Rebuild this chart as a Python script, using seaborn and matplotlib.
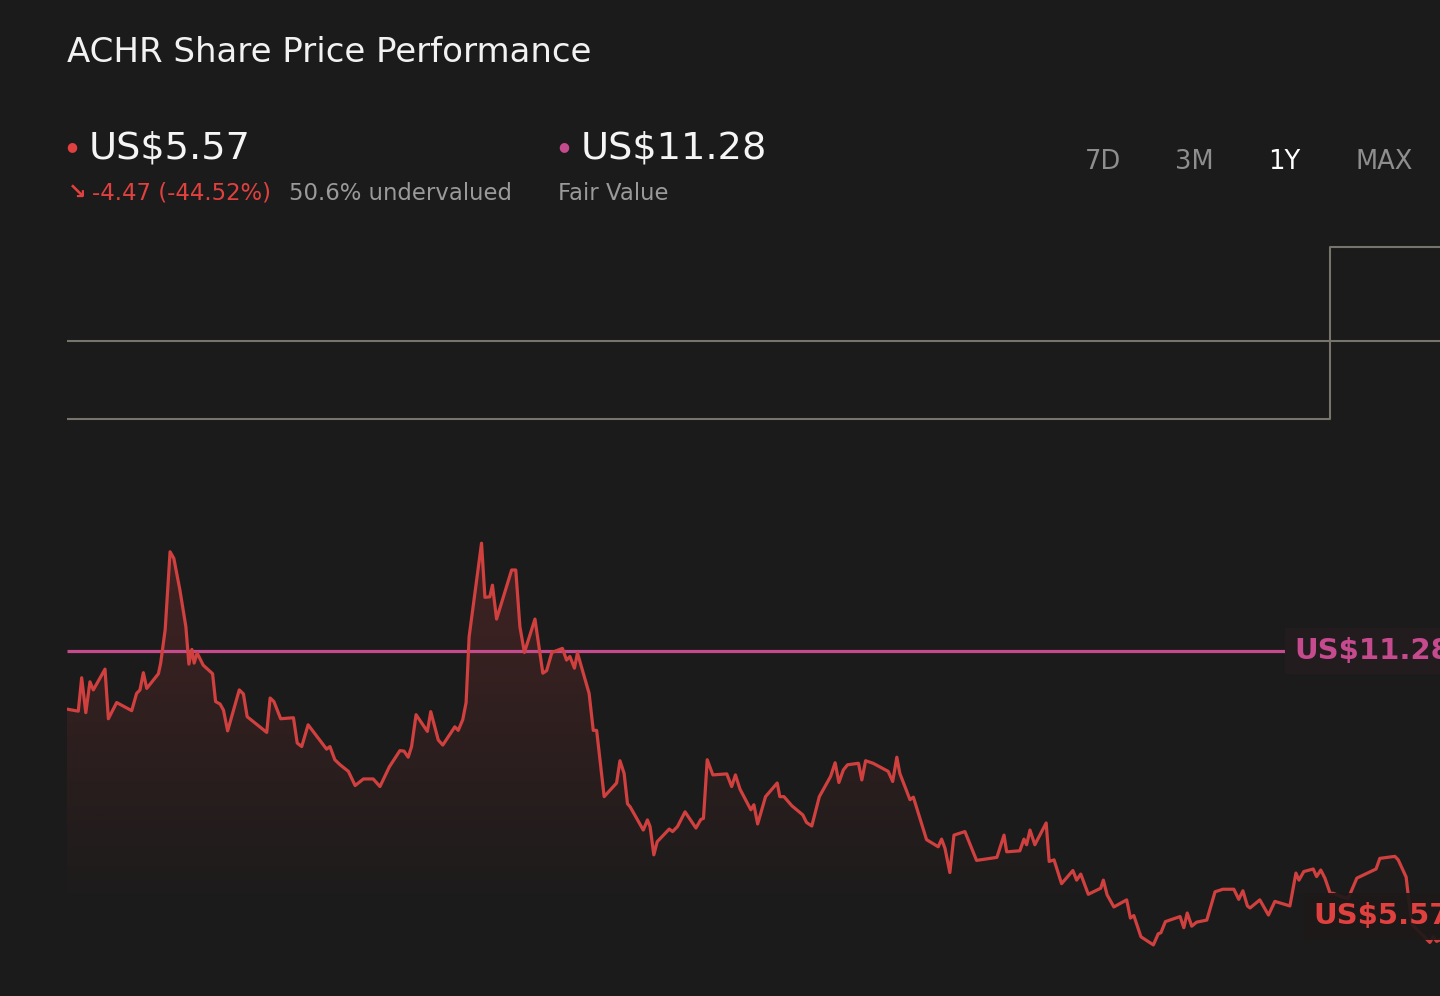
import numpy as np
import matplotlib
matplotlib.use("Agg")
import matplotlib.pyplot as plt
from matplotlib.path import Path
from matplotlib.colors import to_rgb
import seaborn as sns

# header numbers
ticker = "ACHR"
last_price = 5.57
fair_value = 11.28
price_change = -4.47
pct_change = -44.52
undervalued = 50.6
periods = ["7D", "3M", "1Y", "MAX"]
active_period = "1Y"

# 1Y price history (calendar day offset, US$)
day = [0.0, 3.0, 3.9, 5.0, 6.1, 7.0, 10.1, 11.0, 13.2, 17.2, 18.5, 19.4, 20.3, 21.2,
       24.3, 24.9, 26.1, 27.4, 28.4, 30.0, 31.6, 32.4, 33.2, 33.8, 34.6, 36.2, 38.7,
       39.5, 40.7, 41.6, 42.7, 45.8, 46.9, 47.9, 53.1, 54.0, 55.0, 56.8, 60.2, 61.2,
       62.4, 64.1, 69.0, 69.9, 71.2, 72.6, 74.8, 76.6, 78.8, 81.4, 83.2, 85.7, 88.5,
       89.6, 90.7, 91.6, 92.8, 95.8, 96.7, 98.7, 99.9, 103.1, 104.0, 105.2, 106.1,
       106.9, 108.9, 110.2, 111.1, 112.4, 113.1, 114.2, 118.2, 119.3, 120.4, 121.6,
       124.4, 126.5, 127.5, 128.9, 131.7, 132.8, 133.7, 134.9, 135.7, 138.8, 139.9,
       140.8, 142.8, 146.1, 147.0, 148.1, 149.0, 149.7, 153.2, 154.3, 155.0, 156.0,
       156.9, 160.1, 161.0, 162.3, 164.3, 167.2, 168.5, 169.2, 170.2, 171.7, 175.4,
       176.7, 177.7, 178.9, 181.8, 182.6, 183.6, 185.7, 188.8, 189.5, 190.6, 192.7,
       195.6, 196.6, 198.0, 200.0, 203.0, 204.2, 205.2, 206.4, 207.5, 210.4, 211.3,
       212.3, 214.3, 218.3, 219.5, 220.6, 221.4, 224.1, 225.0, 228.5, 231.6, 232.5,
       233.4, 234.7, 235.8, 238.7, 241.8, 247.2, 249.1, 249.8, 253.3, 254.4, 255.1,
       256.0, 257.3, 260.3, 261.1, 262.4, 264.4, 267.4, 268.4, 269.5, 271.5, 274.8,
       275.5, 276.5, 278.3, 281.7, 282.7, 283.6, 285.5, 288.8, 290.1, 290.8, 292.0,
       295.9, 296.9, 297.8, 299.0, 300.3, 303.0, 305.2, 307.3, 310.2, 311.5, 312.6,
       313.8, 314.5, 317.1, 319.4, 321.1, 325.1, 326.7, 327.5, 328.8, 331.3, 332.2,
       333.3, 334.4, 335.8, 336.6, 338.9, 340.6, 342.9, 348.0, 349.0, 353.0, 353.9,
       356.0, 356.6, 357.6, 362.3, 363.2, 364.1, 365.0]
price = [10.13, 10.09, 10.75, 10.06, 10.67, 10.51, 10.92, 9.94, 10.26, 10.10, 10.44,
         10.51, 10.85, 10.54, 10.83, 11.04, 11.70, 13.24, 13.11, 12.49, 11.76, 11.02,
         11.31, 11.04, 11.24, 11.00, 10.83, 10.28, 10.23, 10.11, 9.70, 10.51, 10.43,
         9.98, 9.67, 10.35, 10.28, 9.94, 9.96, 9.46, 9.39, 9.82, 9.34, 9.39, 9.13,
         9.03, 8.90, 8.62, 8.75, 8.75, 8.60, 8.99, 9.31, 9.30, 9.18, 9.39, 10.02,
         9.69, 10.08, 9.52, 9.42, 9.78, 9.71, 9.92, 10.26, 11.56, 12.68, 13.41, 12.34,
         12.35, 12.58, 11.91, 12.88, 12.88, 11.76, 11.25, 11.91, 10.84, 10.89, 11.25,
         11.33, 11.10, 11.17, 10.94, 11.24, 10.44, 9.71, 9.71, 8.40, 8.67, 9.11, 8.86,
         8.26, 8.20, 7.74, 7.94, 7.81, 7.25, 7.51, 7.76, 7.71, 7.81, 8.10, 7.78, 7.95,
         7.97, 9.13, 8.83, 8.85, 8.60, 8.83, 8.55, 8.14, 8.24, 7.86, 8.40, 8.67, 8.40,
         8.40, 8.22, 8.04, 7.89, 7.82, 8.40, 8.80, 9.07, 8.68, 8.93, 9.03, 9.06, 8.73,
         9.11, 9.06, 8.90, 8.70, 9.18, 8.86, 8.34, 8.39, 7.55, 7.41, 7.56, 7.38, 6.90,
         7.64, 7.71, 7.14, 7.20, 7.64, 7.31, 7.33, 7.56, 7.45, 7.74, 7.45, 7.88, 7.12,
         7.15, 6.68, 6.94, 6.75, 6.87, 6.47, 6.59, 6.75, 6.46, 6.22, 6.36, 6.00, 6.05,
         5.63, 5.47, 5.69, 5.71, 5.93, 6.03, 5.81, 6.10, 5.84, 5.92, 5.96, 6.52, 6.57,
         6.57, 6.37, 6.54, 6.24, 6.20, 6.36, 6.06, 6.33, 6.24, 6.89, 6.75, 6.92, 6.97,
         6.82, 6.95, 6.79, 6.49, 6.49, 6.42, 6.39, 6.79, 6.97, 7.18, 7.22, 7.15, 6.81,
         6.42, 5.87, 5.52, 5.63, 5.54, 5.57]

# grey reference lines at the top of the chart
step_days = [0, 335.8, 365]
upper_band = [17.41, 17.41, 17.41]
lower_band = [15.87, 19.26, 19.26]

bg = "#1b1b1b"
red = "#d0403f"
pink = "#c54a8e"
grey_line = "#77756b"

sns.set_theme(style="dark", rc={"axes.facecolor": bg, "figure.facecolor": bg})
plt.rcParams["font.family"] = ["DejaVu Sans"]

W, H = 1440, 996
fig = plt.figure(figsize=(W / 100, H / 100), dpi=100)
ax = fig.add_axes([67 / W, 0, 1 - 67 / W, (H - 230) / H])


def fig_text(px, py, s, **kw):
    fig.text(px / W, 1 - py / H, s, **kw)


# gradient area under the price line
floor = 6.1
top = max(price)
poly = ax.fill_between(day, np.maximum(price, floor), floor, color="none", lw=0)
clip = Path.make_compound_path(*poly.get_paths())
grad = np.zeros((256, 1, 4))
grad[..., :3] = to_rgb(red)
grad[:, 0, 3] = np.linspace(0.22, 0.0, 256)
im = ax.imshow(grad, extent=[0, 365, floor, top], aspect="auto", origin="upper", zorder=1)
im.set_clip_path(clip, transform=ax.transData)

ax.step(step_days, upper_band, where="post", color=grey_line, lw=1.5, zorder=2)
ax.step(step_days, lower_band, where="post", color=grey_line, lw=1.5, zorder=2)

ax.hlines(fair_value, 0, 365, color=pink, lw=2.3, zorder=3)
sns.lineplot(x=day, y=price, ax=ax, color=red, lw=2.3, zorder=4)

ax.set_xlim(0, 365)
ax.set_ylim(4.46, 19.6)
ax.set_axis_off()

# value tags on the right
ax.text(0.894, fair_value, f"US${fair_value:.2f}", transform=ax.get_yaxis_transform(),
        color=pink, fontsize=21, fontweight="bold", va="center", ha="left", zorder=6,
        bbox=dict(boxstyle="square,pad=0.32", fc="#221c1f", ec="none"))
ax.annotate(f"US${last_price:.2f}", xy=(day[-1], price[-1]), xytext=(-91, 17),
            textcoords="offset points", color="#e0413f", fontsize=21, fontweight="bold",
            va="center", ha="left", zorder=6,
            bbox=dict(boxstyle="square,pad=0.32", fc="#1f1919", ec="none", alpha=0.93))

# header
fig_text(67, 52, f"{ticker} Share Price Performance", color="#f2f2f2", fontsize=24.5, va="center")
fig_text(66, 147, "\u25cf", color="#e0413f", fontsize=9, va="center")
fig_text(89, 148, f"US${last_price:.2f}", color="#f5f5f5", fontsize=27.5, va="center")
fig_text(558, 147, "\u25cf", color=pink, fontsize=9, va="center")
fig_text(581, 148, f"US${fair_value:.2f}", color="#f5f5f5", fontsize=27.5, va="center")
fig_text(68, 193, "\u2198", color="#e0413f", fontsize=16, fontweight="bold", va="center")
fig_text(92, 193, f"{price_change:.2f} ({pct_change:.2f}%)", color="#e0413f", fontsize=16.4, va="center")
fig_text(289, 193, f"{undervalued:.1f}% undervalued", color="#9a9a9a", fontsize=16.4, va="center")
fig_text(558, 193, "Fair Value", color="#9a9a9a", fontsize=16.4, va="center")

for px, p in zip([1085, 1175, 1268, 1355], periods):
    fig_text(px, 162, p, color="#ffffff" if p == active_period else "#8e8e8e",
             fontsize=18.5, va="center")

fig.savefig("out.png", dpi=100, facecolor=bg)
